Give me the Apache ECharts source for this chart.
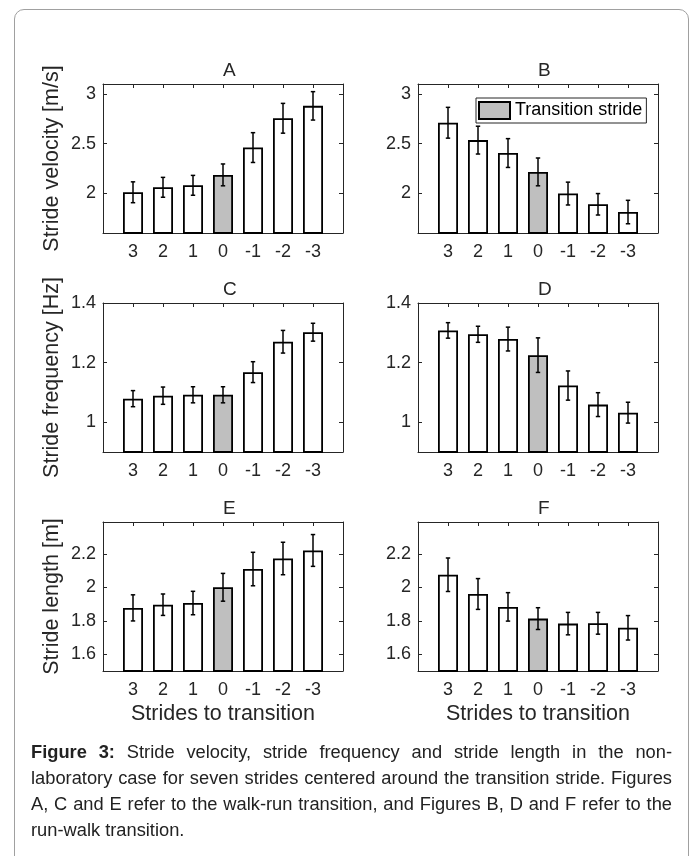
<!DOCTYPE html>
<html>
<head>
<meta charset="utf-8">
<script src="https://cdn.jsdelivr.net/npm/echarts@6/dist/echarts.min.js"></script>
<style>
  html, body { margin: 0; padding: 0; background: #fff; }
  #frame {
    position: absolute; left: 14px; top: 9px; width: 675px; height: 900px;
    border: 1px solid #a0a0a0; border-radius: 10px; box-sizing: border-box;
  }
  #chart { position: absolute; left: 0; top: 0; width: 694px; height: 740px; }
  #caption {
    position: absolute; left: 31px; top: 739px; width: 641px;
    font-family: "Liberation Sans", Arial, sans-serif; font-size: 18.3px;
    line-height: 26px; text-align: justify; color: #222;
  }
</style>
</head>
<body>
<div id="frame"></div>
<div id="chart"></div>
<div id="caption"><b>Figure 3:</b> Stride velocity, stride frequency and stride length in the non-laboratory case for seven strides centered around the transition stride. Figures A, C and E refer to the walk-run transition, and Figures B, D and F refer to the run-walk transition.</div>
<script>
var categories = ["3", "2", "1", "0", "-1", "-2", "-3"];
var transitionIndex = 3;

// A - velocity, walk-run
var velocityWalkRun = [2.01, 2.06, 2.08, 2.185, 2.46, 2.755, 2.88];
var velocityWalkRunErr = [0.105, 0.1, 0.1, 0.11, 0.15, 0.15, 0.143];
// B - velocity, run-walk
var velocityRunWalk = [2.71, 2.535, 2.405, 2.215, 1.997, 1.889, 1.811];
var velocityRunWalkErr = [0.155, 0.14, 0.145, 0.14, 0.115, 0.108, 0.118];
// C - frequency, walk-run
var frequencyWalkRun = [1.079, 1.089, 1.092, 1.092, 1.168, 1.27, 1.302];
var frequencyWalkRunErr = [0.027, 0.029, 0.027, 0.027, 0.035, 0.038, 0.03];
// D - frequency, run-walk
var frequencyRunWalk = [1.308, 1.295, 1.279, 1.225, 1.123, 1.059, 1.032];
var frequencyRunWalkErr = [0.026, 0.027, 0.04, 0.058, 0.049, 0.04, 0.035];
// E - length, walk-run
var lengthWalkRun = [1.877, 1.896, 1.906, 2.0, 2.109, 2.172, 2.22];
var lengthWalkRunErr = [0.078, 0.064, 0.07, 0.083, 0.1, 0.097, 0.095];
// F - length, run-walk
var lengthRunWalk = [2.075, 1.96, 1.883, 1.813, 1.783, 1.785, 1.758];
var lengthRunWalkErr = [0.1, 0.092, 0.085, 0.065, 0.067, 0.065, 0.073];

var velocityTicks = [2, 2.5, 3];
var frequencyTicks = [1, 1.2, 1.4];
var lengthTicks = [1.6, 1.8, 2, 2.2];

var FONT = "Liberation Sans, Arial, sans-serif";
var INK = "#262626";
var xPos = categories.map(function (c, k) { return k + 1; });

var panels = [
  { title: "A", left: 103, top: 84, vals: velocityWalkRun, errs: velocityWalkRunErr, ticks: velocityTicks, min: 1.6, max: 3.1, yName: "Stride velocity [m/s]" },
  { title: "B", left: 418, top: 84, vals: velocityRunWalk, errs: velocityRunWalkErr, ticks: velocityTicks, min: 1.6, max: 3.1, legend: true },
  { title: "C", left: 103, top: 303, vals: frequencyWalkRun, errs: frequencyWalkRunErr, ticks: frequencyTicks, min: 0.9, max: 1.4, yName: "Stride frequency [Hz]" },
  { title: "D", left: 418, top: 303, vals: frequencyRunWalk, errs: frequencyRunWalkErr, ticks: frequencyTicks, min: 0.9, max: 1.4 },
  { title: "E", left: 103, top: 522, vals: lengthWalkRun, errs: lengthWalkRunErr, ticks: lengthTicks, min: 1.5, max: 2.39, yName: "Stride length [m]", xName: "Strides to transition" },
  { title: "F", left: 418, top: 522, vals: lengthRunWalk, errs: lengthRunWalkErr, ticks: lengthTicks, min: 1.5, max: 2.39, xName: "Strides to transition" }
];
var gridW = 240, gridH = 149;

var grid = [], xAxis = [], yAxis = [], series = [], graphic = [];

panels.forEach(function (p, i) {
  grid.push({ left: p.left, top: p.top, width: gridW, height: gridH, containLabel: false });

  graphic.push({
    type: "text", left: p.left + gridW / 2, top: p.top - 23,
    style: { text: p.title, fontSize: 19, fontFamily: FONT, fill: INK, align: "center" }
  });

  // bottom axis with labels, top axis only for the box ticks
  xAxis.push({
    gridIndex: i, type: "value", min: 0, max: 8, position: "bottom",
    axisLine: { show: true, onZero: false, lineStyle: { color: INK, width: 1 } },
    axisTick: { show: true, inside: true, length: 4, customValues: xPos, lineStyle: { color: INK } },
    axisLabel: {
      customValues: xPos, margin: 10, fontSize: 18, fontFamily: FONT, color: INK,
      formatter: function (v) { return categories[v - 1]; }
    },
    splitLine: { show: false },
    name: p.xName || "", nameLocation: "middle", nameGap: 32,
    nameTextStyle: { fontSize: 21.5, fontFamily: FONT, color: INK }
  });
  xAxis.push({
    gridIndex: i, type: "value", min: 0, max: 8, position: "top",
    axisLine: { show: true, onZero: false, lineStyle: { color: INK, width: 1 } },
    axisTick: { show: true, inside: true, length: 4, customValues: xPos, lineStyle: { color: INK } },
    axisLabel: { show: false },
    splitLine: { show: false }
  });
  yAxis.push({
    gridIndex: i, type: "value", min: p.min, max: p.max, position: "left",
    axisLine: { show: true, onZero: false, lineStyle: { color: INK, width: 1 } },
    axisTick: { show: true, inside: true, length: 4, customValues: p.ticks, lineStyle: { color: INK } },
    axisLabel: { customValues: p.ticks, margin: 7, fontSize: 18, fontFamily: FONT, color: INK },
    splitLine: { show: false },
    name: p.yName || "", nameLocation: "middle", nameGap: 40,
    nameTextStyle: { fontSize: 21.5, fontFamily: FONT, color: INK }
  });
  yAxis.push({
    gridIndex: i, type: "value", min: p.min, max: p.max, position: "right",
    axisLine: { show: true, onZero: false, lineStyle: { color: INK, width: 1 } },
    axisTick: { show: true, inside: true, length: 4, customValues: p.ticks, lineStyle: { color: INK } },
    axisLabel: { show: false },
    splitLine: { show: false }
  });

  var plain = [], trans = [], bars = [];
  p.vals.forEach(function (v, k) {
    if (k === transitionIndex) trans.push([k + 1, v]);
    else plain.push([k + 1, v]);
    bars.push([k + 1, v - p.errs[k], v + p.errs[k]]);
  });

  series.push({
    name: "Strides", type: "bar", xAxisIndex: 2 * i, yAxisIndex: 2 * i,
    barWidth: 20, barGap: "-100%", data: plain,
    itemStyle: { color: "#fff", borderColor: "#000", borderWidth: 1.8 },
    emphasis: { disabled: true }, silent: true
  });
  series.push({
    name: "Transition stride", type: "bar", xAxisIndex: 2 * i, yAxisIndex: 2 * i,
    barWidth: 20, barGap: "-100%", data: trans,
    itemStyle: { color: "#bfbfbf", borderColor: "#000", borderWidth: 1.8 },
    emphasis: { disabled: true }, silent: true
  });
  series.push({
    type: "custom", xAxisIndex: 2 * i, yAxisIndex: 2 * i, z: 10, silent: true,
    data: bars,
    encode: { x: 0, y: [1, 2] },
    renderItem: function (params, api) {
      var x = api.value(0);
      var lo = api.coord([x, api.value(1)]);
      var hi = api.coord([x, api.value(2)]);
      var w = 2.2;
      var st = { stroke: "#000", lineWidth: 1.5 };
      return {
        type: "group",
        children: [
          { type: "line", shape: { x1: lo[0], y1: lo[1], x2: hi[0], y2: hi[1] }, style: st },
          { type: "line", shape: { x1: lo[0] - w, y1: lo[1], x2: lo[0] + w, y2: lo[1] }, style: st },
          { type: "line", shape: { x1: hi[0] - w, y1: hi[1], x2: hi[0] + w, y2: hi[1] }, style: st }
        ]
      };
    }
  });
});

var chart = echarts.init(document.getElementById("chart"));
chart.setOption({
  animation: false,
  backgroundColor: "transparent",
  grid: grid,
  xAxis: xAxis,
  yAxis: yAxis,
  legend: {
    data: ["Transition stride"], left: 476, top: 98, orient: "horizontal", icon: "rect",
    itemWidth: 31, itemHeight: 17, padding: [3, 4, 3, 2], selectedMode: false,
    borderColor: INK, borderWidth: 1, backgroundColor: "#fff", borderRadius: 0,
    textStyle: { fontSize: 18, fontFamily: FONT, color: "#000" }
  },
  graphic: graphic,
  series: series
});
</script>
</body>
</html>
